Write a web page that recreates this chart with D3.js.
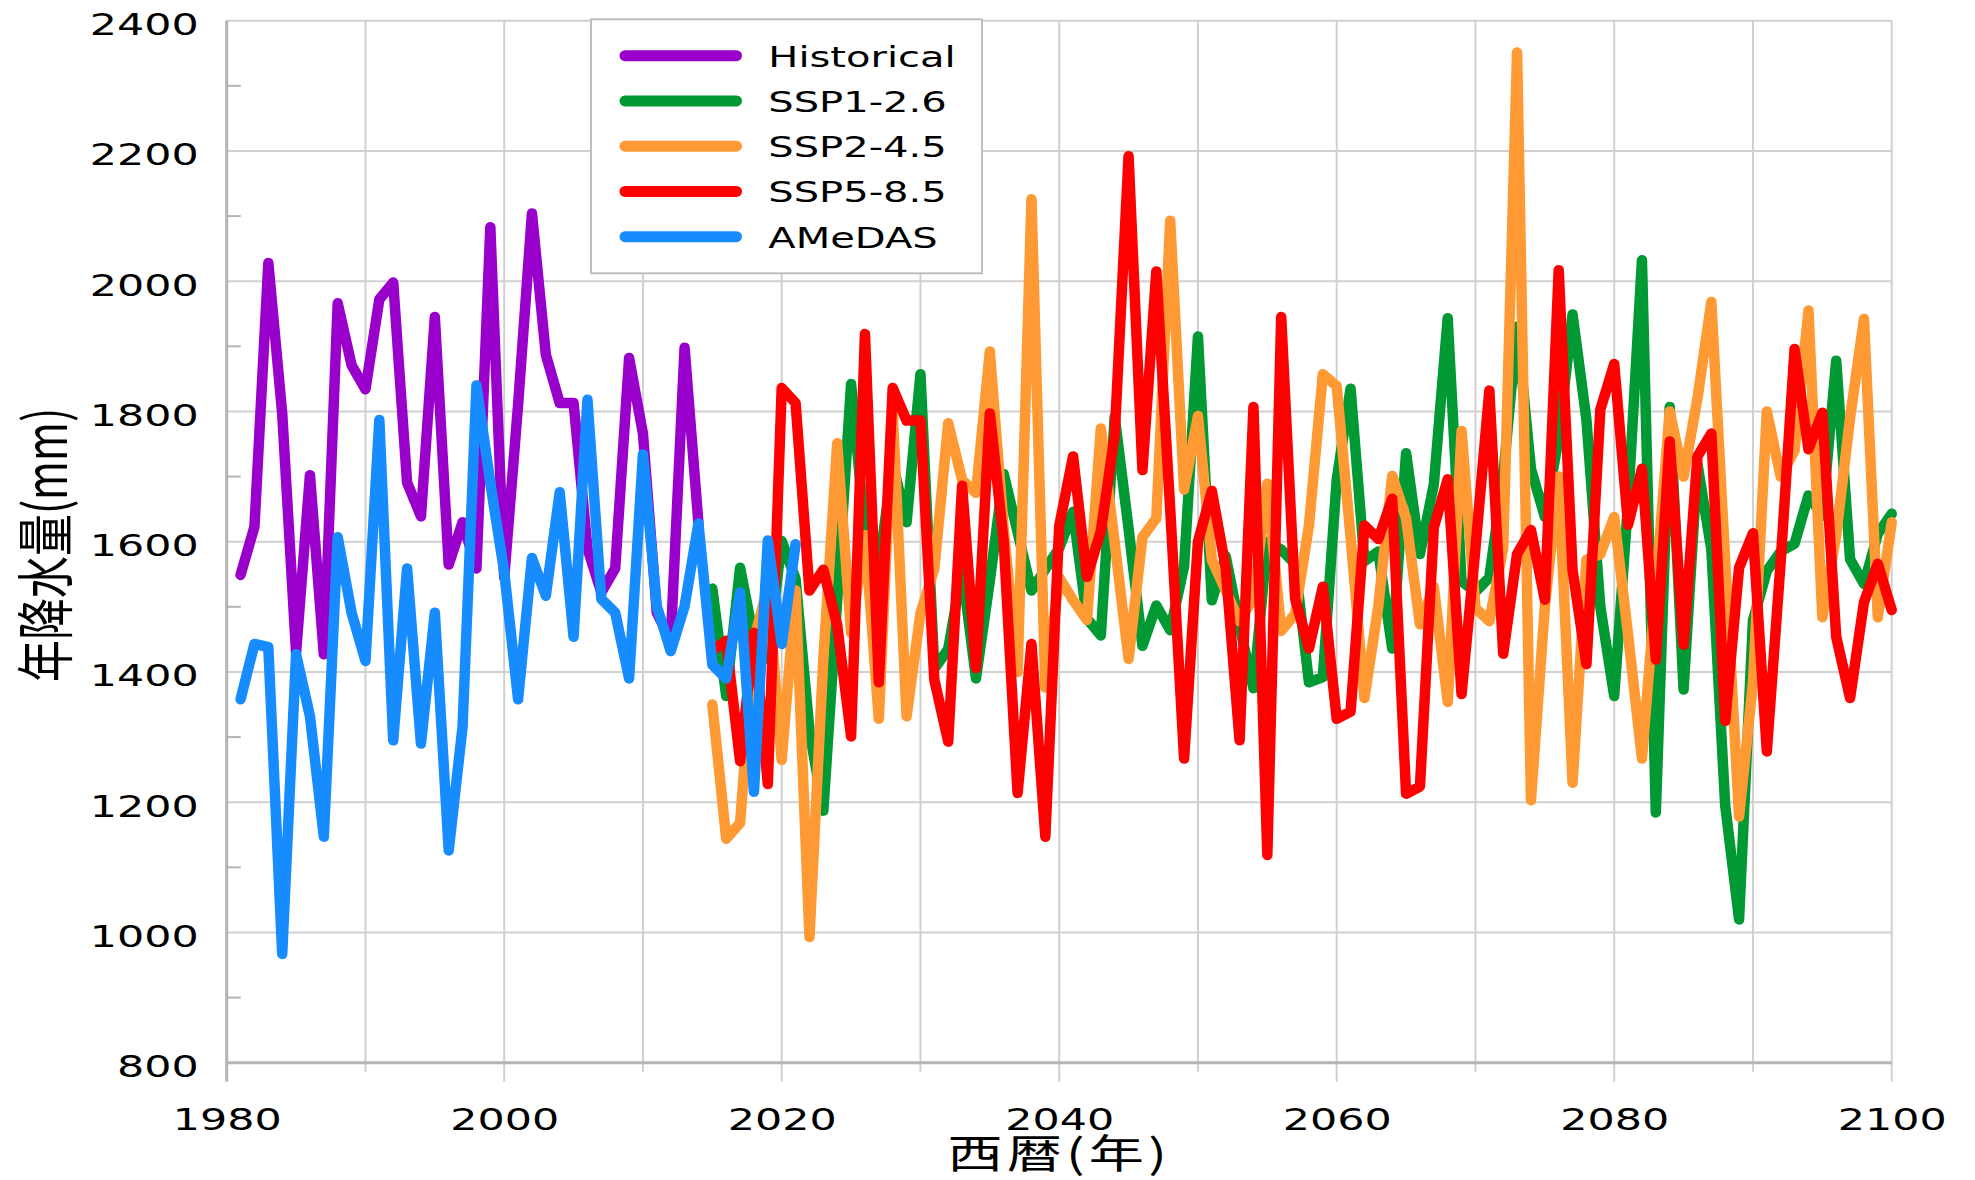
<!DOCTYPE html>
<html>
<head>
<meta charset="utf-8">
<script src="https://cdn.jsdelivr.net/npm/d3@7"></script>
<style>
  html, body { margin: 0; padding: 0; background: #ffffff; }
  svg { display: block; }
</style>
</head>
<body>
<svg id="chart" width="1975" height="1180"></svg>
<script>
// ---------------- data ----------------
const seriesNames = ["Historical", "SSP1-2.6", "SSP2-4.5", "SSP5-8.5", "AMeDAS"];
const seriesColors = ["#9900cc", "#009933", "#ff9933", "#ff0000", "#168cff"];

const historicalStart = 1981;
const historical = [1549, 1623, 2028, 1797, 1430, 1702, 1427, 1966, 1871, 1834,
  1972, 1998, 1691, 1639, 1945, 1565, 1630, 1559, 2083, 1545,
  1810, 2104, 1887, 1813, 1813, 1590, 1522, 1559, 1882, 1766,
  1491, 1448, 1898, 1628];

const amedasStart = 1981;
const amedas = [1358, 1443, 1438, 967, 1427, 1332, 1147, 1607, 1491, 1417,
  1787, 1295, 1559, 1290, 1491, 1126, 1316, 1840, 1690, 1554,
  1358, 1575, 1517, 1676, 1454, 1818, 1512, 1491, 1390, 1734,
  1501, 1432, 1501, 1628, 1411, 1390, 1522, 1216, 1602, 1443, 1596];

const sspStart = 2015;
const ssp126 = [1528, 1363, 1560, 1450, 1420, 1601, 1543, 1310, 1187, 1510,
  1842, 1613, 1560, 1720, 1630, 1857, 1405, 1435, 1558, 1390,
  1540, 1704, 1615, 1525, 1558, 1590, 1646, 1482, 1456, 1792,
  1620, 1440, 1502, 1464, 1562, 1915, 1510, 1578, 1470, 1375,
  1600, 1588, 1566, 1384, 1392, 1695, 1835, 1570, 1585, 1436,
  1736, 1581, 1688, 1943, 1539, 1523, 1545, 1700, 1930, 1712,
  1638, 1760, 1949, 1787, 1500, 1363, 1660, 2032, 1184, 1807,
  1373, 1719, 1588, 1195, 1020, 1479, 1555, 1585, 1597, 1671,
  1640, 1878, 1573, 1535, 1612, 1643];
const ssp245 = [1350, 1144, 1168, 1450, 1530, 1265, 1525, 993, 1420, 1751,
  1460, 1610, 1328, 1800, 1332, 1490, 1558, 1782, 1695, 1675,
  1892, 1620, 1400, 2126, 1376, 1545, 1510, 1480, 1774, 1598,
  1420, 1607, 1636, 2093, 1680, 1793, 1572, 1525, 1478, 1513,
  1689, 1463, 1489, 1625, 1857, 1839, 1607, 1360, 1501, 1701,
  1636, 1473, 1531, 1354, 1770, 1498, 1478, 1590, 2351, 1203,
  1500, 1700, 1230, 1572, 1581, 1638, 1457, 1267, 1530, 1800,
  1700, 1820, 1968, 1570, 1178, 1384, 1800, 1700, 1740, 1955,
  1484, 1610, 1790, 1942, 1484, 1630];
const ssp585 = [1433, 1448, 1263, 1460, 1228, 1836, 1813, 1525, 1557, 1472,
  1301, 1919, 1384, 1836, 1786, 1786, 1388, 1293, 1686, 1406,
  1797, 1600, 1214, 1443, 1147, 1624, 1731, 1546, 1616, 1764,
  2192, 1710, 2015, 1650, 1267, 1600, 1678, 1560, 1295, 1807,
  1119, 1945, 1513, 1436, 1531, 1328, 1339, 1625, 1604, 1666,
  1213, 1224, 1622, 1696, 1366, 1590, 1832, 1428, 1581, 1618,
  1511, 2017, 1556, 1412, 1803, 1873, 1626, 1712, 1419, 1754,
  1442, 1731, 1766, 1325, 1560, 1613, 1278, 1570, 1896, 1742,
  1798, 1454, 1360, 1507, 1566, 1495];

const xTickLabels = [1980, 2000, 2020, 2040, 2060, 2080, 2100];
const xGridYears = [1990, 2000, 2010, 2020, 2030, 2040, 2050, 2060, 2070, 2080, 2090, 2100];
const yTickLabels = [800, 1000, 1200, 1400, 1600, 1800, 2000, 2200, 2400];
const yMinorTicks = [900, 1100, 1300, 1500, 1700, 1900, 2100, 2300];
const xTitle = "西暦(年)";
const yTitle = "年降水量(mm)";

// ---------------- layout ----------------
const svg = d3.select("#chart");
const plot = { left: 226.7, right: 1891.7, top: 20.7, bottom: 1062.7 };
const x = d3.scaleLinear().domain([1980, 2100]).range([plot.left, plot.right]);
const y = d3.scaleLinear().domain([800, 2400]).range([plot.bottom, plot.top]);
const SX = 1.38;               // horizontal stretch of the original glyphs
const latinFont = "'DejaVu Sans', Verdana, sans-serif";
const cjkFont = "'Noto Sans CJK JP', 'Noto Sans CJK SC', sans-serif";
const gridColor = "#d0d0d0";
const axisColor = "#b4b4b4";

// grid
const grid = svg.append("g");
grid.selectAll("line.h").data(yTickLabels.filter(v => v > 800)).enter().append("line")
  .attr("x1", plot.left).attr("x2", plot.right)
  .attr("y1", d => y(d)).attr("y2", d => y(d))
  .attr("stroke", gridColor).attr("stroke-width", 2);
grid.selectAll("line.v").data(xGridYears).enter().append("line")
  .attr("x1", d => x(d)).attr("x2", d => x(d))
  .attr("y1", plot.top)
  .attr("y2", d => plot.bottom + (xTickLabels.includes(d) ? 19 : 9))
  .attr("stroke", gridColor).attr("stroke-width", 2);

// minor y ticks
grid.selectAll("line.m").data(yMinorTicks).enter().append("line")
  .attr("x1", plot.left).attr("x2", plot.left + 14)
  .attr("y1", d => y(d)).attr("y2", d => y(d))
  .attr("stroke", axisColor).attr("stroke-width", 2);

// axes lines
svg.append("line").attr("x1", plot.left).attr("x2", plot.left)
  .attr("y1", plot.top).attr("y2", plot.bottom + 19)
  .attr("stroke", axisColor).attr("stroke-width", 3);
svg.append("line").attr("x1", plot.left - 1).attr("x2", plot.right)
  .attr("y1", plot.bottom).attr("y2", plot.bottom)
  .attr("stroke", axisColor).attr("stroke-width", 3);

// x axis labels
const gx = svg.append("g").attr("transform", `translate(0,${plot.bottom})`)
  .call(d3.axisBottom(x).tickValues(xTickLabels).tickFormat(d3.format("d")).tickSize(0));
gx.select(".domain").remove();
gx.selectAll("text")
  .attr("y", 0).attr("dy", null)
  .attr("transform", `translate(0,67) scale(${SX},1)`)
  .attr("font-family", latinFont).attr("font-size", 31).attr("fill", "#000");

// y axis labels
const gy = svg.append("g").attr("transform", `translate(${plot.left},0)`)
  .call(d3.axisLeft(y).tickValues(yTickLabels).tickFormat(d3.format("d")).tickSize(0));
gy.select(".domain").remove();
gy.selectAll("text")
  .attr("x", 0).attr("dy", null)
  .attr("transform", `translate(-28,14) scale(${SX},1)`)
  .attr("text-anchor", "end")
  .attr("font-family", latinFont).attr("font-size", 31).attr("fill", "#000");

// ---------------- lines ----------------
const line = d3.line().x(d => x(d[0])).y(d => y(d[1]));
const toPts = (arr, start) => arr.map((v, i) => [start + i, v]);
const seriesData = [
  toPts(historical, historicalStart),
  toPts(ssp126, sspStart),
  toPts(ssp245, sspStart),
  toPts(ssp585, sspStart),
  toPts(amedas, amedasStart)
];
svg.append("g").selectAll("path").data(seriesData).enter().append("path")
  .attr("d", line)
  .attr("fill", "none")
  .attr("stroke", (d, i) => seriesColors[i])
  .attr("stroke-width", 10.5)
  .attr("stroke-linejoin", "round")
  .attr("stroke-linecap", "round");

// ---------------- legend ----------------
const lg = svg.append("g");
lg.append("rect").attr("x", 591).attr("y", 19.3).attr("width", 391).attr("height", 254)
  .attr("fill", "#ffffff").attr("stroke", "#bfbfbf").attr("stroke-width", 2);
seriesNames.forEach((name, i) => {
  const cy = 55.7 + i * 45.25;
  lg.append("line").attr("x1", 625).attr("x2", 736.5).attr("y1", cy).attr("y2", cy)
    .attr("stroke", seriesColors[i]).attr("stroke-width", 11).attr("stroke-linecap", "round");
  lg.append("text").text(name)
    .attr("transform", `translate(768.3,${cy + 11}) scale(${SX},1)`)
    .attr("font-family", latinFont).attr("font-size", 29).attr("fill", "#000");
});

// ---------------- titles ----------------
svg.append("text").text(xTitle)
  .attr("transform", `translate(${x(2040)},1168) scale(${SX},1)`)
  .attr("text-anchor", "middle")
  .attr("letter-spacing", 3)
  .attr("font-family", cjkFont).attr("font-size", 40).attr("fill", "#000");
svg.append("text").text(yTitle)
  .attr("transform", `translate(67,545) scale(${SX},1) rotate(-90)`)
  .attr("text-anchor", "middle")
  .attr("font-family", cjkFont).attr("font-size", 42).attr("fill", "#000");
</script>
</body>
</html>
